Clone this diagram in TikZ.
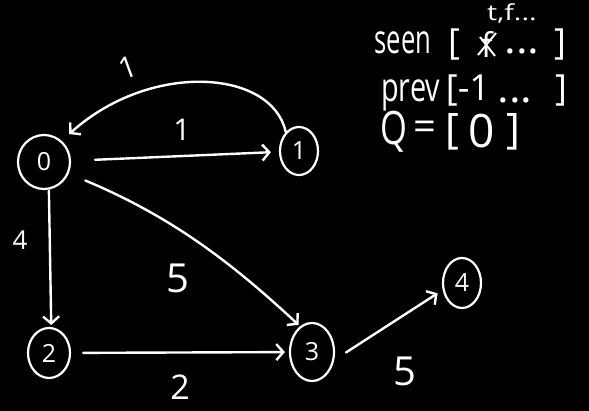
\documentclass[tikz,border=0pt]{standalone}
\usepackage{fontspec}
\setmainfont{Open Sans}
\usetikzlibrary{arrows.meta,shapes.geometric}
\begin{document}
\begin{tikzpicture}[x=1pt,y=1pt,
  vert/.style={ellipse,draw=white,line width=2.2pt,text=white,inner sep=0pt,font=\fontsize{25}{25}\selectfont},
  edge/.style={draw=white,line width=2.4pt,line cap=round,-{Straight Barb[length=7pt,width=16pt]}},
  wlabel/.style={text=white,inner sep=0pt,font=\fontsize{36}{36}\selectfont},
  memo/.style={text=white,inner sep=0pt,font=\fontsize{40}{40}\selectfont},
  brk/.style={text=white,inner sep=0pt,font=\fontsize{36}{36}\selectfont}]
\fill[black] (0,0) rectangle (589,411);
\useasboundingbox (0,0) rectangle (589,411);
% vertices
\node[vert,minimum width=52pt,minimum height=54pt] (n0) at (44,249) {0};
\node[vert,minimum width=38pt,minimum height=48pt] (n1) at (299,260) {1};
\node[vert,minimum width=42pt,minimum height=50pt] (n2) at (49,58) {2};
\node[vert,minimum width=44pt,minimum height=58pt] (n3) at (312,59) {3};
\node[vert,minimum width=38pt,minimum height=50pt] (n4) at (462,128) {4};
% edges
\draw[edge,shorten >=10pt] (n1.125) .. controls (272,342) and (150,350) .. (n0.50);
\draw[edge,shorten <=24pt,shorten >=8pt] (n0) -- (n1);
\draw[edge,shorten <=1pt,shorten >=2pt] (n0.-80) -- (n2.85);
\draw[edge,shorten <=18pt,shorten >=2pt] (n0.-25) .. controls (170,195) and (230,150) .. (n3.115);
\draw[edge,shorten <=12pt,shorten >=4pt] (n2) -- (n3);
\draw[edge,shorten <=14pt,shorten >=6pt] (n3.-20) -- (n4.200);
% weights
\node[wlabel,rotate=20,font=\fontsize{30}{30}\selectfont] (l10) at (128,343) {1};
\node[wlabel,font=\fontsize{30}{30}\selectfont] (l01) at (182,281) {1};
\node[wlabel,font=\fontsize{26}{26}\selectfont] (l02) at (20,171) {4};
\node[wlabel,font=\fontsize{40}{40}\selectfont] (l03) at (178,133) {5};
\node[wlabel,font=\fontsize{34}{34}\selectfont] (l23) at (180,24) {2};
\node[wlabel,font=\fontsize{40}{40}\selectfont] (l34) at (405,40) {5};
% memo
\node[memo] (seen) at (403,368) {\scalebox{0.64}[1]{seen}};
\node[brk] (sb1) at (454,366) {[};
\node[memo,font=\fontsize{34}{34}\selectfont] (sf) at (487,366) {f};
\draw[white,line width=2pt] (478,356) -- (496,378) (480,374) -- (495,355);
\node[memo,anchor=base] (sd) at (522,357) {\scalebox{1.1}[1]{...}};
\node[brk] (sb2) at (560,366) {]};
\node[text=white,inner sep=0pt,font=\fontsize{22}{22}\selectfont] (tf) at (512,397) {\scalebox{1.3}[1]{t,f...}};
\node[memo,anchor=base west] (prev) at (381,309) {\scalebox{0.72}[1]{prev}};
\node[brk] (pb1) at (468,320) {[-1};
\node[memo,anchor=base] (pd) at (515,308) {\scalebox{1.1}[1]{...}};
\node[brk] (pb2) at (561,320) {]};
\node[memo,font=\fontsize{46}{46}\selectfont] (q) at (394,279) {\scalebox{0.75}[1]{Q}};
\node[memo] (qe) at (425,280) {=};
\node[brk,font=\fontsize{42}{42}\selectfont] (qb1) at (452,279) {[};
\node[memo,font=\fontsize{46}{46}\selectfont] (q0) at (482,280) {0};
\node[brk,font=\fontsize{42}{42}\selectfont] (qb2) at (513,279) {]};
\end{tikzpicture}
\end{document}
